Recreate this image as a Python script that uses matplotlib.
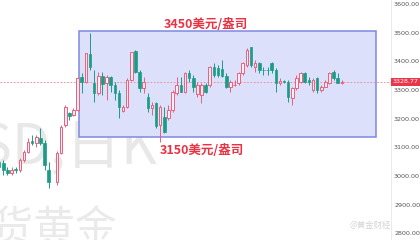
import numpy as np
import matplotlib
matplotlib.use("Agg")
import matplotlib.pyplot as plt
from matplotlib.patches import Rectangle
import matplotlib.transforms as mtransforms

# 日K 蜡烛数据 (开, 高, 低, 收)
idx = [0, 1, 2, 3, 4, 5, 6, 7, 8, 9, 10, 11, 12,
       14, 15, 16, 17, 18, 19, 20, 21, 22, 23, 24, 25, 26, 27, 28, 29,
       30, 31, 32, 33, 34, 35, 36, 37, 38, 39, 40, 41, 42, 43, 44, 45,
       46, 47, 48, 49, 50, 51, 52, 53, 54, 55, 56, 57, 58, 59, 60, 61,
       62, 63, 64, 65, 66, 67, 68, 69, 70, 71, 72, 73, 74, 75, 76, 77,
       78, 79, 80, 81, 82, 83]
opens = [3049, 3046, 3021, 3011, 3025, 3021, 3056, 3084, 3122, 3115, 3133, 3115, 3021,
         2980, 3081, 3178, 3220, 3213, 3230, 3345, 3328, 3425, 3324, 3290, 3349, 3324, 3345, 3317, 3290,
         3227, 3241, 3335, 3436, 3363, 3307, 3276, 3237, 3255, 3178, 3206, 3202, 3230, 3290, 3317, 3293,
         3359, 3342, 3286, 3283, 3317, 3317, 3380, 3377, 3373, 3349, 3310, 3317, 3324, 3359, 3387, 3450,
         3380, 3394, 3371, 3371, 3394, 3370, 3324, 3331, 3328, 3272, 3307, 3328, 3359, 3335, 3300, 3342,
         3300, 3310, 3324, 3363, 3342, 3325]
highs = [3056, 3056, 3032, 3032, 3032, 3063, 3091, 3133, 3143, 3143, 3168, 3126, 3049,
         3088, 3178, 3248, 3223, 3237, 3345, 3359, 3429, 3499, 3370, 3363, 3363, 3352, 3349, 3328, 3300,
         3248, 3342, 3432, 3439, 3370, 3345, 3290, 3258, 3258, 3248, 3241, 3248, 3300, 3345, 3345, 3363,
         3370, 3352, 3328, 3324, 3324, 3384, 3394, 3387, 3404, 3359, 3335, 3335, 3363, 3398, 3446, 3450,
         3405, 3398, 3380, 3380, 3398, 3377, 3342, 3335, 3335, 3310, 3352, 3363, 3363, 3345, 3342, 3345,
         3317, 3335, 3363, 3370, 3359, 3335]
lows = [3024, 3004, 3004, 3004, 3011, 3014, 3049, 3081, 3108, 3101, 3108, 3021, 2959,
        2969, 3077, 3171, 3196, 3209, 3227, 3290, 3324, 3370, 3258, 3283, 3283, 3265, 3293, 3265, 3203,
        3223, 3237, 3331, 3359, 3293, 3290, 3223, 3213, 3168, 3119, 3150, 3196, 3223, 3283, 3293, 3290,
        3328, 3293, 3276, 3255, 3290, 3310, 3345, 3345, 3345, 3307, 3293, 3314, 3317, 3352, 3380, 3380,
        3363, 3359, 3352, 3352, 3359, 3293, 3317, 3324, 3258, 3248, 3300, 3324, 3324, 3317, 3293, 3290,
        3293, 3310, 3321, 3335, 3324, 3321]
closes = [3032, 3021, 3011, 3021, 3021, 3056, 3084, 3119, 3115, 3136, 3115, 3039, 2980,
          3081, 3171, 3241, 3209, 3230, 3342, 3328, 3429, 3380, 3290, 3349, 3321, 3345, 3317, 3290, 3241,
          3241, 3335, 3432, 3363, 3307, 3328, 3237, 3248, 3175, 3241, 3154, 3230, 3293, 3317, 3293, 3359,
          3342, 3310, 3317, 3317, 3293, 3380, 3352, 3352, 3349, 3310, 3328, 3318, 3359, 3394, 3439, 3387,
          3394, 3370, 3369, 3369, 3370, 3324, 3331, 3328, 3276, 3307, 3342, 3359, 3328, 3328, 3335, 3300,
          3310, 3328, 3359, 3342, 3324, 3328.77]

last_price = 3328.77
box_top = 3505
box_bottom = 3136
box_left = 19.3
box_right = 91.2
upper_label = "3450美元/盎司"
lower_label = "3150美元/盎司"
y_ticks = [2800, 2900, 3000, 3100, 3200, 3300, 3400, 3500, 3600]

UP = "#e8607f"
DOWN = "#1b9c86"
CJK = ["Noto Sans CJK SC", "DejaVu Sans"]

fig = plt.figure(figsize=(4.2, 2.4), dpi=100)
ax = fig.add_axes([0, 0, 391 / 420, 1])
ax.set_xlim(0.2, 94.9)
ax.set_ylim(2777, 3614)

# 背景水印
wm1 = ax.text(38.3, 3100, "XAUUSD,日K", family=CJK, fontsize=40, color="#e8e8e8",
              ha="right", va="center", zorder=0)
wm2 = ax.text(28.5, 2812, "现货黄金", family=CJK, fontsize=30, color="#eaeaea",
              ha="right", va="center", zorder=0)
for t in (wm1, wm2):
    t.set_clip_on(True)

# 区间框
ax.add_patch(Rectangle((box_left, box_bottom), box_right - box_left, box_top - box_bottom,
                       facecolor="#dde0fb", edgecolor="#7d88e3", lw=1.1, zorder=1))

x = np.array(idx, dtype=float)
o = np.array(opens, dtype=float)
h = np.array(highs, dtype=float)
l = np.array(lows, dtype=float)
c = np.array(closes, dtype=float)
up = c >= o
colors = np.where(up, UP, DOWN)

ax.vlines(x, l, h, colors=colors, lw=0.7, zorder=2)
body_lo = np.minimum(o, c)
body_h = np.maximum(np.abs(c - o), 1.5)
ax.bar(x[up], body_h[up], bottom=body_lo[up], width=0.62,
       facecolor="#f8eef4", edgecolor=UP, lw=0.7, zorder=3)
ax.bar(x[~up], body_h[~up], bottom=body_lo[~up], width=0.62,
       facecolor=DOWN, edgecolor=DOWN, lw=0.5, zorder=3)

# 最新价
ax.axhline(last_price, color="#ef7f8e", lw=0.6, ls=(0, (2, 2)), zorder=1.5)
trans = mtransforms.blended_transform_factory(ax.transAxes, ax.transData)
ax.text(1.003, last_price, f"{last_price:.2f}", transform=trans, fontsize=4.6,
        color="white", ha="left", va="center", zorder=5,
        bbox=dict(boxstyle="square,pad=0.25", fc="#e8364a", ec="none"))

# 标注文字
ax.text(50.0, 3528, upper_label, family=CJK, fontsize=9, fontweight="bold",
        color="#e83344", ha="center", va="center", zorder=4)
ax.text(49.1, 3089, lower_label, family=CJK, fontsize=9, fontweight="bold",
        color="#e83344", ha="center", va="center", zorder=4)

ax.yaxis.tick_right()
ax.set_yticks(y_ticks)
ax.set_yticklabels([f"{v:.2f}" for v in y_ticks])
ax.tick_params(axis="y", length=0, pad=2.2, labelsize=4.6, labelcolor="#555555")
ax.set_xticks([])
for side in ["top", "left", "bottom"]:
    ax.spines[side].set_visible(False)
ax.spines["right"].set_color("#e6e6e6")
ax.spines["right"].set_linewidth(0.6)

fig.text(0.93, 0.06, "@黄金财经", family=CJK, fontsize=6, color="#d4d4d4",
         ha="right", va="center")

fig.savefig("out.png", dpi=100)
